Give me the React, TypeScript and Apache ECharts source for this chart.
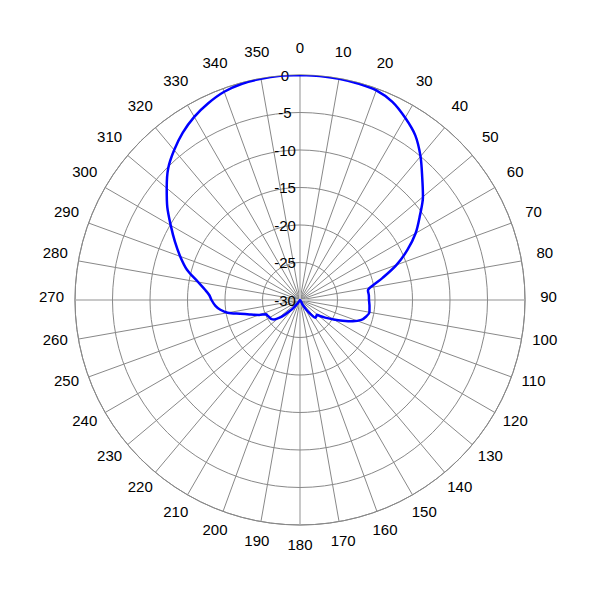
import React, { useEffect, useRef } from "react";
import * as echarts from "echarts";

// Angle (degrees, clockwise from top) and gain (dB) of the radiation pattern
const angles = [
  0, 5, 10, 15, 20, 25, 30, 35, 40, 45, 50, 55, 60, 65, 70, 75, 79, 82, 86, 90,
  95, 100, 104, 108, 112, 116, 120, 125, 129, 131, 134, 139, 143, 147, 151, 155,
  205, 210, 215, 220, 223, 226, 229, 233, 237, 241, 244, 247, 250, 254, 257, 260,
  263, 266, 270, 273, 276, 280, 285, 290, 295, 300, 305, 310, 315, 320, 325, 330,
  335, 340, 345, 350, 355, 360,
];
const gains = [
  0, -0.01, -0.05, -0.12, -0.25, -0.85, -1.95, -3.2, -5.0, -6.95, -8.6, -10.5,
  -12.2, -14.2, -16.3, -18.6, -20.2, -20.85, -20.8, -20.8, -20.7, -20.6, -20.9,
  -21.4, -22.4, -23.7, -24.8, -25.9, -26.6, -27.0, -26.95, -26.85, -27.6, -28.5,
  -29.3, -30, -30, -29.9, -29.5, -28.6, -28.0, -27.2, -26.4, -25.7, -25.4, -25.3,
  -25.2, -25.1, -24.2, -23.0, -21.8, -20.2, -19.3, -18.7, -18.2, -17.9, -17.3,
  -16.2, -14.4, -13.0, -11.6, -10.1, -8.4, -6.8, -5.15, -3.9, -2.75, -1.8, -1.05,
  -0.45, -0.15, -0.05, 0, 0,
];
const radiusMin = -30;
const radiusMax = 0;
const radiusStep = 5;
const angleStep = 10;
// angle tick labels 0..350
const angleTicks = [
  0, 10, 20, 30, 40, 50, 60, 70, 80, 90, 100, 110, 120, 130, 140, 150, 160, 170,
  180, 190, 200, 210, 220, 230, 240, 250, 260, 270, 280, 290, 300, 310, 320, 330,
  340, 350,
];
const majorAxes = [
  [0, 180],
  [90, 270],
];

export default function App() {
  const ref = useRef<HTMLDivElement>(null);
  useEffect(() => {
    if (!ref.current) return;
    const chart = echarts.init(ref.current, null, { renderer: "svg" });
    const font = "Arial, 'Liberation Sans', sans-serif";
    const axisSeries = majorAxes.map(([a, b]) => ({
      type: "line",
      coordinateSystem: "polar",
      data: [
        [radiusMax, a],
        [radiusMin, a],
        [radiusMax, b],
      ],
      symbol: "none",
      silent: true,
      z: 1,
      lineStyle: { color: "#c8c8c8", width: 2 },
    }));
    chart.setOption({
      animation: false,
      backgroundColor: "#ffffff",
      polar: { center: ["50%", "50%"], radius: 225 },
      angleAxis: {
        type: "value",
        min: 0,
        max: 360,
        interval: angleStep,
        startAngle: 90,
        clockwise: true,
        z: 0,
        axisLine: { show: true, lineStyle: { color: "#888888", width: 1 } },
        axisTick: { show: false },
        axisLabel: { show: false },
        splitLine: { show: true, lineStyle: { color: "#888888", width: 1 } },
      },
      radiusAxis: {
        type: "value",
        min: radiusMin,
        max: radiusMax,
        interval: radiusStep,
        z: 2,
        axisLine: { show: false },
        axisTick: { show: false },
        axisLabel: {
          fontSize: 15,
          fontFamily: font,
          color: "#000000",
          align: "center",
          verticalAlign: "middle",
          margin: 15,
        },
        splitLine: { show: true, lineStyle: { color: "#888888", width: 1 } },
      },
      series: [
        ...axisSeries,
        {
          type: "line",
          coordinateSystem: "polar",
          data: angles.map((a, i) => [gains[i], a]),
          symbol: "none",
          smooth: 0.3,
          z: 3,
          lineStyle: { color: "#0000ff", width: 2.5 },
        },
      ],
    });
    // angle labels centred on a ring just outside the outer circle
    const labelGap = 23.5;
    const labelLift = -4;
    const c = chart.convertToPixel({ seriesIndex: 2 }, [radiusMin, 0]) as number[];
    const texts = angleTicks.map((a) => {
      const p = chart.convertToPixel({ seriesIndex: 2 }, [radiusMax, a]) as number[];
      const dx = p[0] - c[0];
      const dy = p[1] - c[1];
      const len = Math.sqrt(dx * dx + dy * dy) || 1;
      const k = (len + labelGap) / len;
      return {
        type: "text",
        x: c[0] + dx * k,
        y: c[1] + dy * k + labelLift,
        silent: true,
        style: {
          text: String(a),
          fontSize: 15,
          fontFamily: font,
          fill: "#000000",
          align: "center",
          verticalAlign: "middle",
        },
      };
    });
    chart.setOption({ graphic: texts });
    return () => chart.dispose();
  }, []);
  return (
    <div
      ref={ref}
      style={{ position: "absolute", left: 0, top: 0, width: 600, height: 600 }}
    />
  );
}
